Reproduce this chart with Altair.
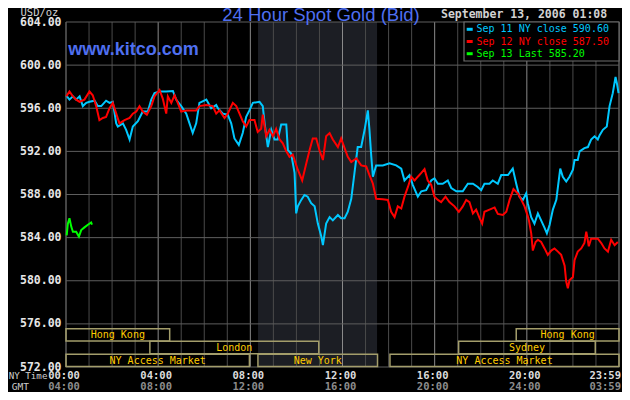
import altair as alt
import pandas as pd

# ---------------- data ----------------
sep11_h = [0.01,0.15,0.30,0.44,0.59,0.73,0.88,1.02,1.24,1.38,
           1.53,1.74,1.89,2.03,2.18,2.25,2.47,2.61,2.76,2.90,
           3.12,3.33,3.55,3.70,3.84,4.06,4.35,4.64,4.78,5.00,
           5.22,5.36,5.50,5.65,5.79,6.09,6.30,6.52,6.59,6.81,
           7.02,7.17,7.31,7.50,7.67,7.82,7.96,8.11,8.40,8.54,
           8.62,8.76,8.91,9.05,9.19,9.34,9.56,9.63,9.77,9.92,
           9.99,10.06,10.21,10.35,10.49,10.64,10.79,10.93,11.08,11.15,
           11.29,11.44,11.58,11.80,11.94,12.09,12.23,12.38,12.52,12.66,
           12.81,12.96,13.10,13.17,13.25,13.32,13.46,13.75,14.04,14.33,
           14.55,14.69,14.91,15.05,15.27,15.42,15.63,15.85,15.99,16.14,
           16.35,16.57,16.72,16.94,17.22,17.44,17.66,17.87,18.02,18.16,
           18.38,18.52,18.74,18.89,19.18,19.39,19.54,19.68,19.83,19.97,
           20.04,20.19,20.33,20.48,20.62,20.77,20.87,20.99,21.13,21.28,
           21.35,21.45,21.56,21.71,21.85,22.00,22.07,22.21,22.29,22.50,
           22.65,22.79,22.94,23.08,23.16,23.30,23.47,23.59,23.73,23.85,
           23.91,23.98]
sep11_v = [597.2,596.8,597.1,596.8,597.1,596.2,596.5,596.6,596.7,596.2,
           596.2,596.7,596.5,596.6,594.6,594.3,594.6,594.0,593.1,594.3,
           594.8,595.7,595.7,596.8,597.4,597.55,597.55,597.6,596.8,596.2,
           595.5,594.6,593.7,594.6,596.5,596.8,596.0,596.3,596.0,595.5,
           595.4,594.6,593.2,592.6,593.7,595.2,595.8,596.5,596.6,596.2,
           594.6,592.4,594.0,593.1,593.1,594.5,594.5,592.1,591.8,590.0,
           586.25,586.9,587.5,587.95,587.8,587.2,586.9,585.3,584.1,583.3,
           585.3,585.9,585.6,586.1,585.8,585.8,586.4,587.6,590.0,592.4,
           592.4,594.0,595.8,594.0,591.5,589.65,590.7,590.7,590.9,590.7,
           590.4,589.3,589.8,588.9,587.8,588.3,588.4,589.3,589.5,589.0,
           589.0,589.3,588.6,588.3,588.3,589.0,589.0,588.7,588.4,589.0,
           589.0,589.3,589.0,589.8,589.8,590.4,589.0,587.8,587.5,588.1,
           587.2,585.9,585.3,586.25,585.6,584.9,584.4,585.2,586.6,587.5,
           588.7,590.4,589.65,589.2,589.65,590.3,591.2,591.2,592.0,592.3,
           592.4,593.1,593.4,593.1,593.5,594.0,594.3,596.2,597.4,598.9,
           598.3,597.4]

sep12_h = [0.01,0.15,0.30,0.44,0.59,0.80,1.02,1.16,1.31,1.45,
           1.60,1.74,1.89,2.03,2.18,2.32,2.54,2.76,2.90,3.05,
           3.19,3.33,3.51,3.70,3.84,4.06,4.20,4.35,4.42,4.57,
           4.71,4.85,5.00,5.22,5.50,5.65,5.79,6.09,6.37,6.52,
           6.66,6.88,7.02,7.24,7.39,7.53,7.67,7.82,7.96,8.18,
           8.32,8.47,8.54,8.69,8.83,8.98,9.12,9.27,9.41,9.56,
           9.70,9.84,10.06,10.25,10.43,10.57,10.71,10.86,11.00,11.15,
           11.29,11.44,11.58,11.80,11.94,12.09,12.23,12.38,12.60,12.81,
           13.03,13.17,13.32,13.46,13.75,13.97,14.11,14.26,14.40,14.55,
           14.69,14.84,14.98,15.13,15.27,15.42,15.56,15.70,15.85,15.99,
           16.14,16.28,16.47,16.64,16.86,17.05,17.22,17.37,17.51,17.66,
           17.80,17.95,18.06,18.16,18.38,18.60,18.74,18.96,19.11,19.25,
           19.42,19.61,19.76,19.90,20.04,20.09,20.19,20.26,20.38,20.48,
           20.62,20.77,20.91,21.06,21.20,21.35,21.49,21.64,21.71,21.78,
           21.85,22.00,22.07,22.21,22.36,22.50,22.58,22.69,22.79,22.94,
           23.08,23.23,23.37,23.52,23.66,23.81,23.95]
sep12_v = [597.1,597.55,597.1,596.8,596.6,596.8,597.55,597.2,596.2,594.9,
           595.1,595.2,596.0,596.5,595.5,594.6,594.9,595.1,595.5,595.7,
           596.2,595.7,595.4,596.2,597.1,597.7,596.9,595.5,597.1,596.5,
           597.2,596.5,595.7,595.8,595.8,595.8,596.2,596.3,596.2,595.5,
           595.8,595.1,595.5,596.5,596.2,595.5,594.8,594.3,594.9,594.9,
           593.8,594.1,595.4,593.4,594.0,593.4,594.1,593.1,592.75,592.0,
           591.5,591.7,590.3,589.3,590.9,592.1,593.2,593.2,592.1,591.2,
           593.4,593.7,593.1,592.4,593.2,592.3,591.5,591.0,591.35,590.7,
           590.6,589.8,589.0,587.6,587.55,587.5,586.4,585.9,586.9,586.7,
           587.8,588.7,589.65,589.3,589.65,590.0,590.35,589.3,588.9,587.8,
           587.5,587.3,587.8,587.3,586.9,586.4,586.9,587.5,587.3,586.25,
           586.6,585.8,585.3,586.4,586.6,586.8,586.2,586.1,586.4,587.5,
           588.5,588.1,587.5,586.9,586.0,585.6,584.4,582.8,583.6,583.8,
           583.6,583.0,582.4,582.8,583.0,582.7,582.4,581.4,579.9,579.3,
           580.05,580.35,581.9,582.7,583.0,583.5,584.55,583.2,583.9,583.9,
           583.9,583.5,583.0,582.7,583.8,583.3,583.6]

sep13_h = [0.03,0.08,0.15,0.23,0.30,0.44,0.56,0.66,0.80,0.95,1.09,1.13]
sep13_v = [584.2,585.3,585.8,585.0,584.55,584.55,584.1,584.7,584.95,585.2,585.4,585.2]

series_names = ["Sep 11 NY close 590.60", "Sep 12 NY close 587.50", "Sep 13 Last 585.20"]
series_colors = ["#00c8ff", "#ff0000", "#00ff00"]

price_ticks = [572, 576, 580, 584, 588, 592, 596, 600, 604]
grid_hours = list(range(0, 25))

ny_hours = [0, 4, 8, 12, 16, 20]
ny_labels = ["00:00", "04:00", "08:00", "12:00", "16:00", "20:00"]
gmt_labels = ["04:00", "08:00", "12:00", "16:00", "20:00", "24:00"]
end_hour = [24]
end_ny = ["23:59"]
end_gmt = ["03:59"]

shade_start = [8.333]
shade_end = [13.5]

sess_label = ["Hong Kong", "Hong Kong", "London", "Sydney",
              "NY Access Market", "New York", "NY Access Market"]
sess_start = [0.0, 19.54, 3.64, 17.04, 0.0, 8.33, 14.06]
sess_end = [4.5, 24.0, 10.97, 22.97, 7.96, 13.52, 24.0]
sess_top = [575.55, 575.55, 574.38, 574.38, 573.18, 573.18, 573.18]
sess_bot = [574.42, 574.42, 573.22, 573.22, 572.04, 572.04, 572.04]

# ---------------- chart ----------------
W, H = 553, 345
MONO = "DejaVu Sans Mono"
SANS = "Liberation Sans"

xs = alt.Scale(domain=[0, 24], nice=False, zero=False)
ys = alt.Scale(domain=[572, 604], nice=False, zero=False)
yax = alt.Axis(values=price_ticks, format=".2f", labelFont=MONO, labelFontSize=11.5,
               labelFontWeight="bold", labelColor="#e6e6e6", labelPadding=5,
               ticks=False, tickSize=0, domain=False, grid=False, title=None)

def X(f):
    return alt.X(f, type="quantitative", scale=xs, axis=None)

def Y(f):
    return alt.Y(f, type="quantitative", scale=ys, axis=yax)

shade = alt.Chart(pd.DataFrame({"s": shade_start, "e": shade_end})).mark_rect(
    fill="#1c1e24").encode(x=X("s"), x2="e", y=alt.value(0), y2=alt.value(H))

gdf = pd.DataFrame({"h": grid_hours})
vgrid_minor = alt.Chart(gdf).transform_filter("datum.h % 4 != 0").mark_rule(
    color="#4a4a4a", strokeWidth=1).encode(x=X("h"), y=alt.value(0), y2=alt.value(H))
vgrid_major = alt.Chart(gdf).transform_filter("datum.h % 4 == 0").mark_rule(
    color="#8a8a8a", strokeWidth=1).encode(x=X("h"), y=alt.value(0), y2=alt.value(H))
hgrid = alt.Chart(pd.DataFrame({"p": price_ticks})).mark_rule(
    color="#5e5e5e", strokeWidth=1).encode(y=Y("p"), x=alt.value(0), x2=alt.value(W))

sdf = pd.DataFrame({"label": sess_label, "s": sess_start, "e": sess_end,
                    "top": sess_top, "bot": sess_bot})
sess_box = alt.Chart(sdf).mark_rect(fillOpacity=0, stroke="#a39d6b", strokeWidth=1.5).encode(
    x=X("s"), x2="e", y=Y("top"), y2="bot")
sess_txt = alt.Chart(sdf).transform_calculate(
    mid="(datum.s + datum.e) / 2", ymid="(datum.top + datum.bot) / 2"
).mark_text(font=MONO, fontSize=10, color="#ffcc00", align="center", baseline="middle", dy=0.5).encode(
    x=X("mid:Q"), y=Y("ymid:Q"), text="label:N")

def line(h, v, color):
    return alt.Chart(pd.DataFrame({"h": h, "v": v})).mark_line(
        color=color, strokeWidth=2, interpolate="linear").encode(x=X("h"), y=Y("v"))

l11 = line(sep11_h, sep11_v, series_colors[0])
l12 = line(sep12_h, sep12_v, series_colors[1])
l13 = line(sep13_h, sep13_v, series_colors[2])

one = pd.DataFrame({"k": [0]})

legend_box = alt.Chart(one).mark_rect(fill="#000000", stroke="#6e6e6e", strokeWidth=1.2).encode(
    x=alt.value(398), x2=alt.value(553), y=alt.value(0), y2=alt.value(39))
legend_layers = [legend_box]
for i, (name, col) in enumerate(zip(series_names, series_colors)):
    yy = 7.3 + 12.2 * i
    legend_layers.append(alt.Chart(one).mark_rule(color=col, strokeWidth=3).encode(
        x=alt.value(400.7), x2=alt.value(406.7), y=alt.value(yy)))
    legend_layers.append(alt.Chart(one).mark_text(
        text=name, font=MONO, fontSize=10, color=col, align="left", baseline="middle").encode(
        x=alt.value(410.5), y=alt.value(yy)))

title = alt.Chart(one).mark_text(text="24 Hour Spot Gold (Bid)", font=SANS, fontSize=18.5,
                                 color="#4f6ff0", align="center", baseline="alphabetic").encode(
    x=alt.value(255), y=alt.value(-1))
usd = alt.Chart(one).mark_text(text="USD/oz", font=MONO, fontSize=10.5, color="#d2d2d2",
                               align="left", baseline="alphabetic").encode(
    x=alt.value(-45.5), y=alt.value(-6.5))
date = alt.Chart(one).mark_text(text="September 13, 2006 01:08", font=MONO, fontSize=11.5,
                                fontWeight="bold", color="#d2d2d2", align="left",
                                baseline="alphabetic").encode(
    x=alt.value(375), y=alt.value(-4))
kitco = alt.Chart(one).mark_text(text="www.kitco.com", font=SANS, fontSize=18, fontWeight="bold",
                                 color="#4f6ff0", align="left", baseline="alphabetic").encode(
    x=alt.value(2.3), y=alt.value(33))

bdf = pd.DataFrame({"h": ny_hours, "ny": ny_labels, "gmt": gmt_labels})
edf = pd.DataFrame({"h": end_hour, "ny": end_ny, "gmt": end_gmt})
NY_Y, GMT_Y = 356.5, 367.5
FS = 10.5
ny_txt = alt.Chart(bdf).mark_text(font=MONO, fontSize=FS, fontWeight="bold", color="#dcdcdc",
                                  align="center", baseline="alphabetic", dx=-2).encode(
    x=X("h"), y=alt.value(NY_Y), text="ny:N")
gmt_txt = alt.Chart(bdf).mark_text(font=MONO, fontSize=FS, fontWeight="bold", color="#8c8c8c",
                                   align="center", baseline="alphabetic", dx=-2).encode(
    x=X("h"), y=alt.value(GMT_Y), text="gmt:N")
ny_end = alt.Chart(edf).mark_text(font=MONO, fontSize=FS, fontWeight="bold", color="#dcdcdc",
                                  align="right", baseline="alphabetic", dx=2).encode(
    x=X("h"), y=alt.value(NY_Y), text="ny:N")
gmt_end = alt.Chart(edf).mark_text(font=MONO, fontSize=FS, fontWeight="bold", color="#8c8c8c",
                                   align="right", baseline="alphabetic", dx=2).encode(
    x=X("h"), y=alt.value(GMT_Y), text="gmt:N")
ny_title = alt.Chart(one).mark_text(text="NY Time", font=MONO, fontSize=9.2, color="#cfcfcf",
                                    align="left", baseline="alphabetic").encode(
    x=alt.value(-57.3), y=alt.value(NY_Y + 0.5))
gmt_title = alt.Chart(one).mark_text(text="GMT", font=MONO, fontSize=9.5, color="#cfcfcf",
                                     align="left", baseline="alphabetic").encode(
    x=alt.value(-54.3), y=alt.value(GMT_Y))

chart = alt.layer(
    shade, vgrid_minor, vgrid_major, hgrid, sess_box, sess_txt,
    *legend_layers, l11, l12, l13,
    title, usd, date, kitco,
    ny_txt, gmt_txt, ny_end, gmt_end, ny_title, gmt_title
).properties(
    width=W, height=H,
    autosize=alt.AutoSizeParams(type="none"),
    padding={"left": 58, "top": 14, "right": 3, "bottom": 25},
).configure(background="#000000").configure_view(strokeWidth=0)

chart.save("out.html", embed_options={"renderer": "svg", "actions": False})
